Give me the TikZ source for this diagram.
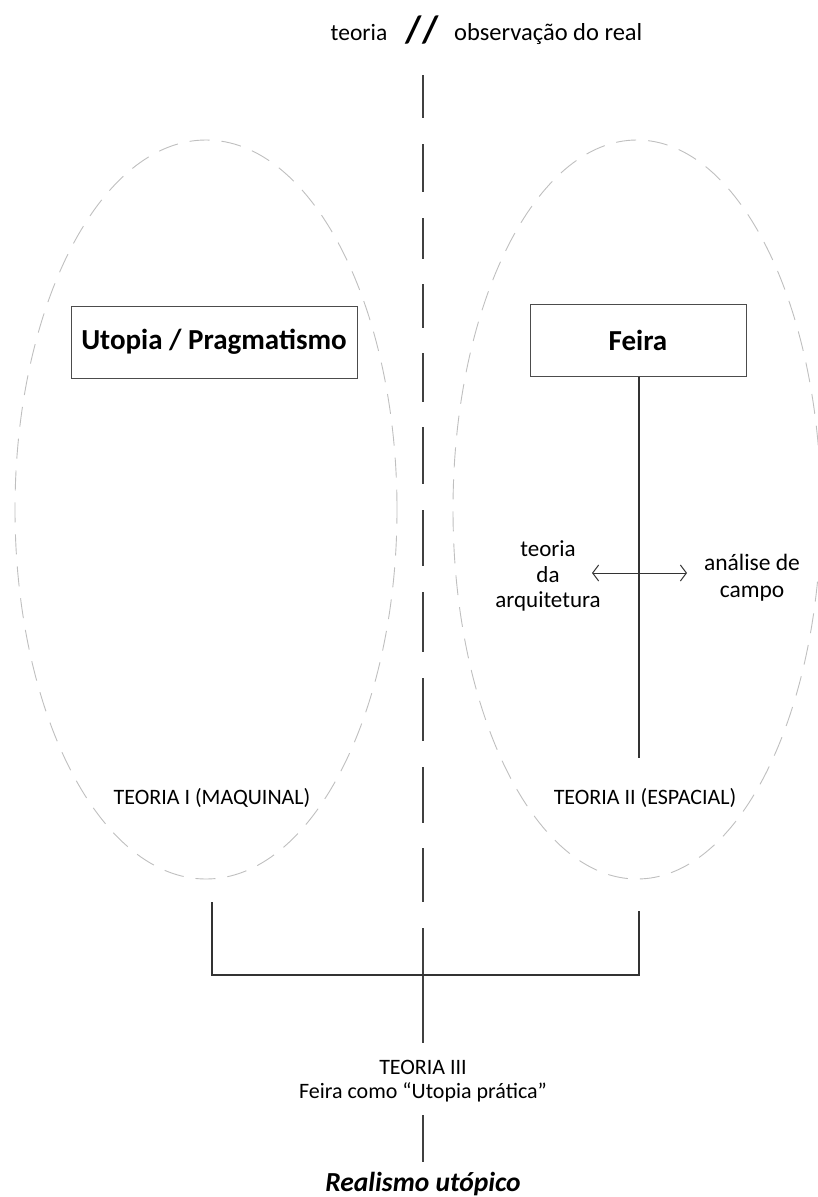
\documentclass[tikz,border=0pt]{standalone}
\usepackage{fontspec}
\setmainfont{Carlito}
\usetikzlibrary{arrows.meta}
\begin{document}
\begin{tikzpicture}[x=1pt,y=-1pt,
  txt/.style={inner sep=0pt, font=\fontsize{22}{26}\selectfont, align=center},
  boxnode/.style={draw=black!70, line width=1pt, inner sep=0pt, font=\bfseries\fontsize{29}{34}\selectfont},
  ell/.style={draw=black!25, line width=0.9pt, dash pattern=on 20pt off 12pt},
  sepline/.style={draw=black!75, line width=1.3pt},
  conn/.style={draw=black!80, line width=1.2pt}]
\useasboundingbox (0,0) rectangle (818,1197);
% ellipses
\draw[ell] (206,509.5) ellipse [x radius=191pt, y radius=369.5pt];
\draw[ell] (637,509.5) ellipse [x radius=184pt, y radius=369.5pt];
% title
\node[txt, anchor=base, font=\fontsize{23.5}{28}\selectfont] (teo) at (359,40) {teoria};
\node[inner sep=0pt, anchor=base, font=\bfseries\fontsize{38}{42}\selectfont] (sl) at (422,42) {//};
\node[txt, anchor=base west, font=\fontsize{24.5}{28}\selectfont] (obs) at (454,40) {observação do real};
% center separator
\foreach \a/\b in {75/118,144/192,218/259,284/328,353/402,427/484,510/566,592/652,678/741,767/823,848/902,928/1043}
  \draw[sepline] (423,\a) -- (423,\b);
% boxes
\node[boxnode, minimum width=286pt, minimum height=72pt] (utopia) at (214,342) {Utopia / Pragmatismo};
\node[boxnode, minimum width=216pt, minimum height=72pt] (feira) at (638,340) {Feira};
\coordinate (fbot) at (639,758);
\draw[conn] (feira.south -| fbot) -- (fbot);
% side labels
\node[txt, font=\fontsize{23}{25.5}\selectfont] (ta) at (548,576) {teoria\\da\\arquitetura};
\node[txt, font=\fontsize{23.5}{27}\selectfont] (ac) at (752,578) {análise de\\campo};
\coordinate (al) at (592,573);
\coordinate (ar) at (687,573);
\draw[conn, line width=1pt, {Straight Barb[length=6pt,width=16pt]}-{Straight Barb[length=6pt,width=16pt]}] (al) -- (ar);
% theory labels
\node[txt, anchor=base] (t1) at (212,804) {TEORIA I (MAQUINAL)};
\node[txt, anchor=base] (t2) at (645,804) {TEORIA II (ESPACIAL)};
% bracket
\coordinate (bl) at (212,902);
\coordinate (br) at (639,911);
\draw[conn] (bl) -- (212,975) -- (639,975) -- (br);
% bottom
\node[txt, anchor=base] (t3) at (423,1074) {TEORIA III};
\node[txt, anchor=base] (t3b) at (423,1098) {Feira como “Utopia prática”};
\node[inner sep=0pt, anchor=base, font=\bfseries\itshape\fontsize{27.5}{32}\selectfont] (real) at (423,1191) {Realismo utópico};
\draw[sepline] (423,1115) -- (423,1162);
\end{tikzpicture}
\end{document}
